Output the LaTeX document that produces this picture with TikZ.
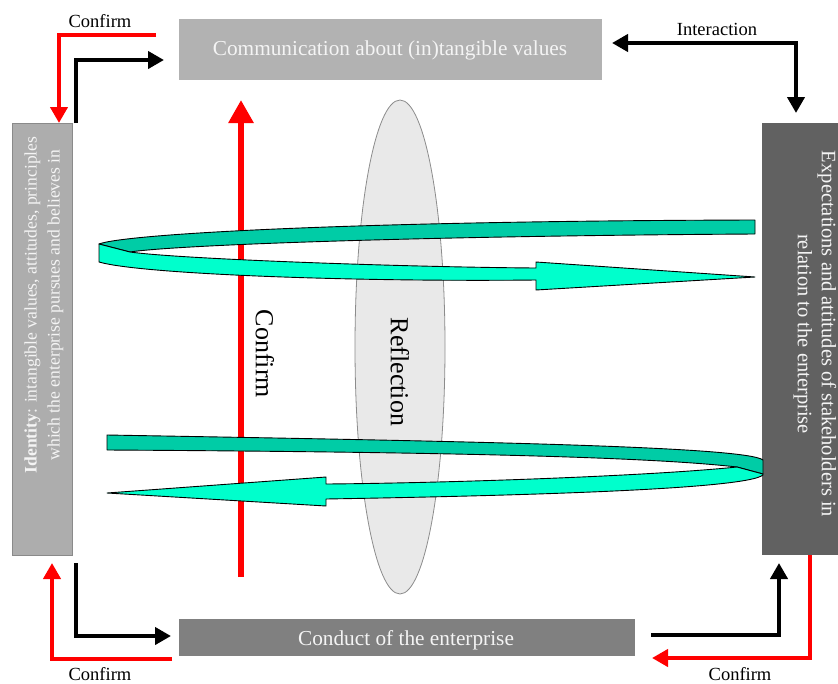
\documentclass[tikz,border=0pt]{standalone}
\usepackage{fontspec}
\setmainfont{Liberation Serif}
\usetikzlibrary{arrows.meta,shapes.geometric}

\definecolor{commgray}{HTML}{B2B2B2}
\definecolor{idgray}{HTML}{ADADAD}
\definecolor{idborder}{HTML}{8A8A8A}
\definecolor{stakegray}{HTML}{616161}
\definecolor{conductgray}{HTML}{808080}
\definecolor{lensfill}{HTML}{E9E9E9}
\definecolor{lensdraw}{HTML}{8C8C8C}
\definecolor{ribbonback}{HTML}{00CCA6}
\definecolor{ribbonfront}{HTML}{00FFCC}
\definecolor{boxtext}{HTML}{F4F4F4}

\newcommand{\boxfont}{\fontsize{21.3}{25}\selectfont}
\newcommand{\labelfont}{\fontsize{18.5}{22}\selectfont}
\newcommand{\idfont}{\fontsize{17.6}{23}\selectfont}
\newcommand{\stakefont}{\fontsize{20.5}{24}\selectfont}
\newcommand{\bigfont}{\fontsize{26}{30}\selectfont}

\tikzset{
  panel/.style={inner sep=0pt, outer sep=0pt, anchor=north west},
  paneltext/.style={text=boxtext, inner sep=0pt},
  flowblack/.style={draw=black, line width=4pt, -{Triangle[width=17pt,length=16pt]}},
  flowred/.style={draw=red, line width=4pt, -{Triangle[width=17pt,length=16pt]}},
  ribbon/.style={draw=black, line width=0.9pt, line join=round},
  edgelabel/.style={font=\labelfont, inner sep=0pt},
}

\begin{document}
\begin{tikzpicture}[x=1pt, y=-1pt]
\useasboundingbox (0,0) rectangle (838,683);

% ---- boxes ----
\node[panel, fill=commgray, minimum width=423pt, minimum height=61pt] (comm) at (179,19) {};
\node[paneltext, font=\boxfont, anchor=base] (commtext) at (390,55) {Communication about (in)tangible values};

\node[panel, fill=idgray, draw=idborder, line width=1pt, minimum width=60pt, minimum height=432pt] (identity) at (12,123) {};
\node[paneltext, font=\idfont, rotate=90, align=center] (idtext) at (44,305)
  {\textbf{Identity}: intangible values, attitudes, principles\\which the enterprise pursues and believes in};

\node[panel, fill=stakegray, minimum width=76pt, minimum height=432pt] (stake) at (762,123) {};
\node[paneltext, font=\stakefont, rotate=-90, align=center] (staketext) at (815,334)
  {Expectations and attitudes of stakeholders in\\relation to the enterprise};

\node[panel, fill=conductgray, minimum width=456pt, minimum height=37pt] (conduct) at (179,619) {};
\node[paneltext, font=\boxfont, anchor=base] (conducttext) at (406,645) {Conduct of the enterprise};

% ---- reflection lens ----
\node[ellipse, draw=lensdraw, fill=lensfill, line width=0.8pt, minimum width=90pt, minimum height=494pt, inner sep=0pt] (lens) at (400,347) {};
\node[font=\bigfont, rotate=-90, inner sep=0pt] (lenstext) at (400,372) {Reflection};

% ---- central confirm arrow ----
\coordinate (cbot) at (241,577);
\coordinate (ctop) at (241,100);
\draw[draw=red, line width=6pt, -{Triangle[width=24pt,length=23pt]}] (cbot) -- (ctop);
\node[font=\bigfont, rotate=-90, inner sep=0pt] (ctext) at (265,354) {Confirm};

% ---- upper ribbon ----
\path[ribbon, fill=ribbonback]
  (755,220) .. controls (350,221) and (125,234) .. (99,244)
  -- (130,252) .. controls (175,245) and (420,236) .. (755,234) -- cycle;
\path[ribbon, fill=ribbonfront]
  (99,244) -- (130,252) .. controls (180,259) and (400,267) .. (536,268)
  -- (536,262) -- (755,277) -- (536,290) -- (536,280)
  .. controls (350,282) and (140,274) .. (99,262) -- cycle;

% ---- lower ribbon ----
\path[ribbon, fill=ribbonback]
  (107,435) .. controls (450,441) and (745,446) .. (763,460)
  -- (763,474) -- (737,467) .. controls (650,457) and (450,452) .. (107,450) -- cycle;
\path[ribbon, fill=ribbonfront]
  (763,474) -- (737,467) .. controls (650,476) and (450,483) .. (326,484)
  -- (326,477) -- (107,493) -- (326,506) -- (326,499)
  .. controls (500,496) and (745,490) .. (763,475) -- cycle;

% ---- connectors, top left ----
\coordinate (tlred) at (156,35);
\coordinate (tlredend) at (59,123);
\draw[flowred] (tlred) -| (tlredend);
\coordinate (tlblack) at (76,123);
\coordinate (tlblackend) at (164,60);
\draw[flowblack] (tlblack) |- (tlblackend);
\node[edgelabel] (conftl) at (100,21) {Confirm};

% ---- connectors, top right ----
\coordinate (trleft) at (612,43);
\coordinate (trdown) at (796,113);
\draw[draw=black, line width=4pt, {Triangle[width=17pt,length=16pt]}-{Triangle[width=17pt,length=16pt]}] (trleft) -| (trdown);
\node[edgelabel] (inter) at (717,29) {Interaction};

% ---- connectors, bottom left ----
\coordinate (blblack) at (76,563);
\coordinate (blblackend) at (171,636);
\draw[flowblack] (blblack) |- (blblackend);
\coordinate (blred) at (172,659);
\coordinate (blredend) at (52,563);
\draw[flowred] (blred) -| (blredend);
\node[edgelabel] (confbl) at (100,674) {Confirm};

% ---- connectors, bottom right ----
\coordinate (brblack) at (651,635);
\coordinate (brblackend) at (779,563);
\draw[flowblack] (brblack) -| (brblackend);
\coordinate (brred) at (810,555);
\coordinate (brredend) at (652,658);
\draw[flowred] (brred) |- (brredend);
\node[edgelabel] (confbr) at (740,674) {Confirm};

\end{tikzpicture}
\end{document}
